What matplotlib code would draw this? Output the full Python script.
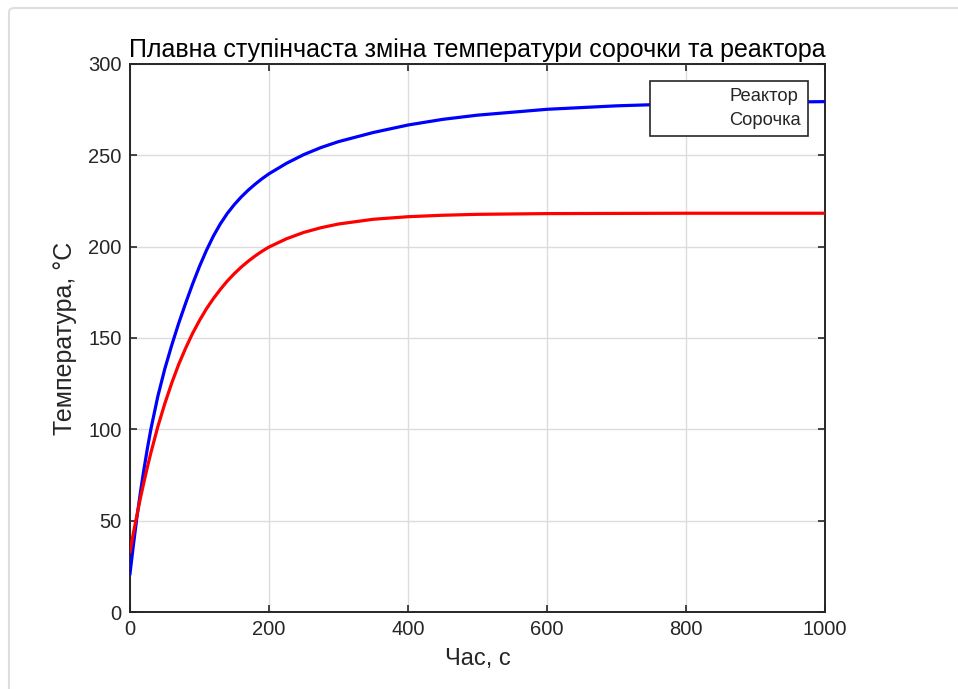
import matplotlib
matplotlib.use("Agg")
import matplotlib.pyplot as plt
from matplotlib.lines import Line2D
from matplotlib.patches import FancyBboxPatch

plt.rcParams["font.family"] = ["Liberation Sans", "DejaVu Sans"]

# Time, s
time_s = [0, 5, 10, 15, 20, 25, 30, 40, 50, 60, 70, 80, 90, 100, 110, 120,
          130, 140, 150, 160, 170, 180, 190, 200, 225, 250, 275, 300, 350,
          400, 450, 500, 600, 700, 800, 900, 1000]

# Reactor temperature, °C
reactor_t = [21, 37, 52, 65.5, 78, 89.5, 100, 118, 133, 146, 158, 169, 179.5,
             189.2, 198, 205.8, 212.5, 218.2, 223, 227.2, 230.9, 234.2, 237.2,
             239.9, 245.6, 250.4, 254.3, 257.5, 262.5, 266.6, 269.7, 272,
             275.2, 277.1, 278.3, 279, 279.4]

# Jacket temperature, °C
jacket_t = [33, 43.5, 53.1, 62.4, 71.0, 79.3, 87.1, 101.4, 114.0, 125.3,
            135.5, 144.4, 152.5, 159.6, 166, 171.6, 176.6, 181.2, 185.2,
            188.8, 192.0, 194.9, 197.5, 199.8, 204.3, 207.8, 210.4, 212.4,
            215.0, 216.4, 217.2, 217.7, 218.1, 218.2, 218.3, 218.3, 218.3]

series_labels = ["Реактор", "Сорочка"]

fig = plt.figure(figsize=(9.58, 6.89), dpi=100)

# thin panel frame around the figure
frame = FancyBboxPatch((9 / 958, -0.05), 1.1, (1 - 8 / 689) + 0.05,
                       boxstyle="round,pad=0,rounding_size=0.006",
                       transform=fig.transFigure, facecolor="white",
                       edgecolor="#dedede", linewidth=1.5, zorder=-10)
fig.patches.append(frame)

ax = fig.add_axes([130 / 958, 1 - 612 / 689, 695 / 958, 548 / 689])

ax.plot(time_s, reactor_t, color="#0000ff", linewidth=2.3, zorder=3)
ax.plot(time_s, jacket_t, color="#ff0000", linewidth=2.3, zorder=3)

ax.set_xlim(0, 1000)
ax.set_ylim(0, 300)
ax.set_xticks(range(0, 1001, 200))
ax.set_yticks(range(0, 301, 50))
ax.grid(True, color="#dcdcdc", linewidth=1.0)
ax.set_axisbelow(True)

for spine in ax.spines.values():
    spine.set_color("#262626")
    spine.set_linewidth(1.4)
ax.tick_params(direction="in", top=True, right=True, length=5, width=1.2,
               labelsize=14.5, labelcolor="#262626", color="#262626", pad=6)

ax.set_title("Плавна ступінчаста зміна температури сорочки та реактора",
             fontsize=18, color="black", pad=5)
ax.set_xlabel("Час, с", fontsize=17, color="#262626", labelpad=6)
ax.set_ylabel("Температура, °С", fontsize=18, color="#262626", labelpad=8)

# legend entries carry no visible line sample
handles = [Line2D([], [], color="none") for _ in series_labels]
leg = ax.legend(handles, series_labels, loc="upper right",
                bbox_to_anchor=((808 - 130) / 695, (612 - 81) / 548),
                borderaxespad=0, fontsize=13.2, handlelength=3.6,
                handletextpad=0.3, borderpad=0.4, labelspacing=0.35,
                fancybox=False, framealpha=1, edgecolor="#262626")
leg.get_frame().set_linewidth(1.2)
for t in leg.get_texts():
    t.set_color("#262626")

fig.savefig("out.png", dpi=100)
